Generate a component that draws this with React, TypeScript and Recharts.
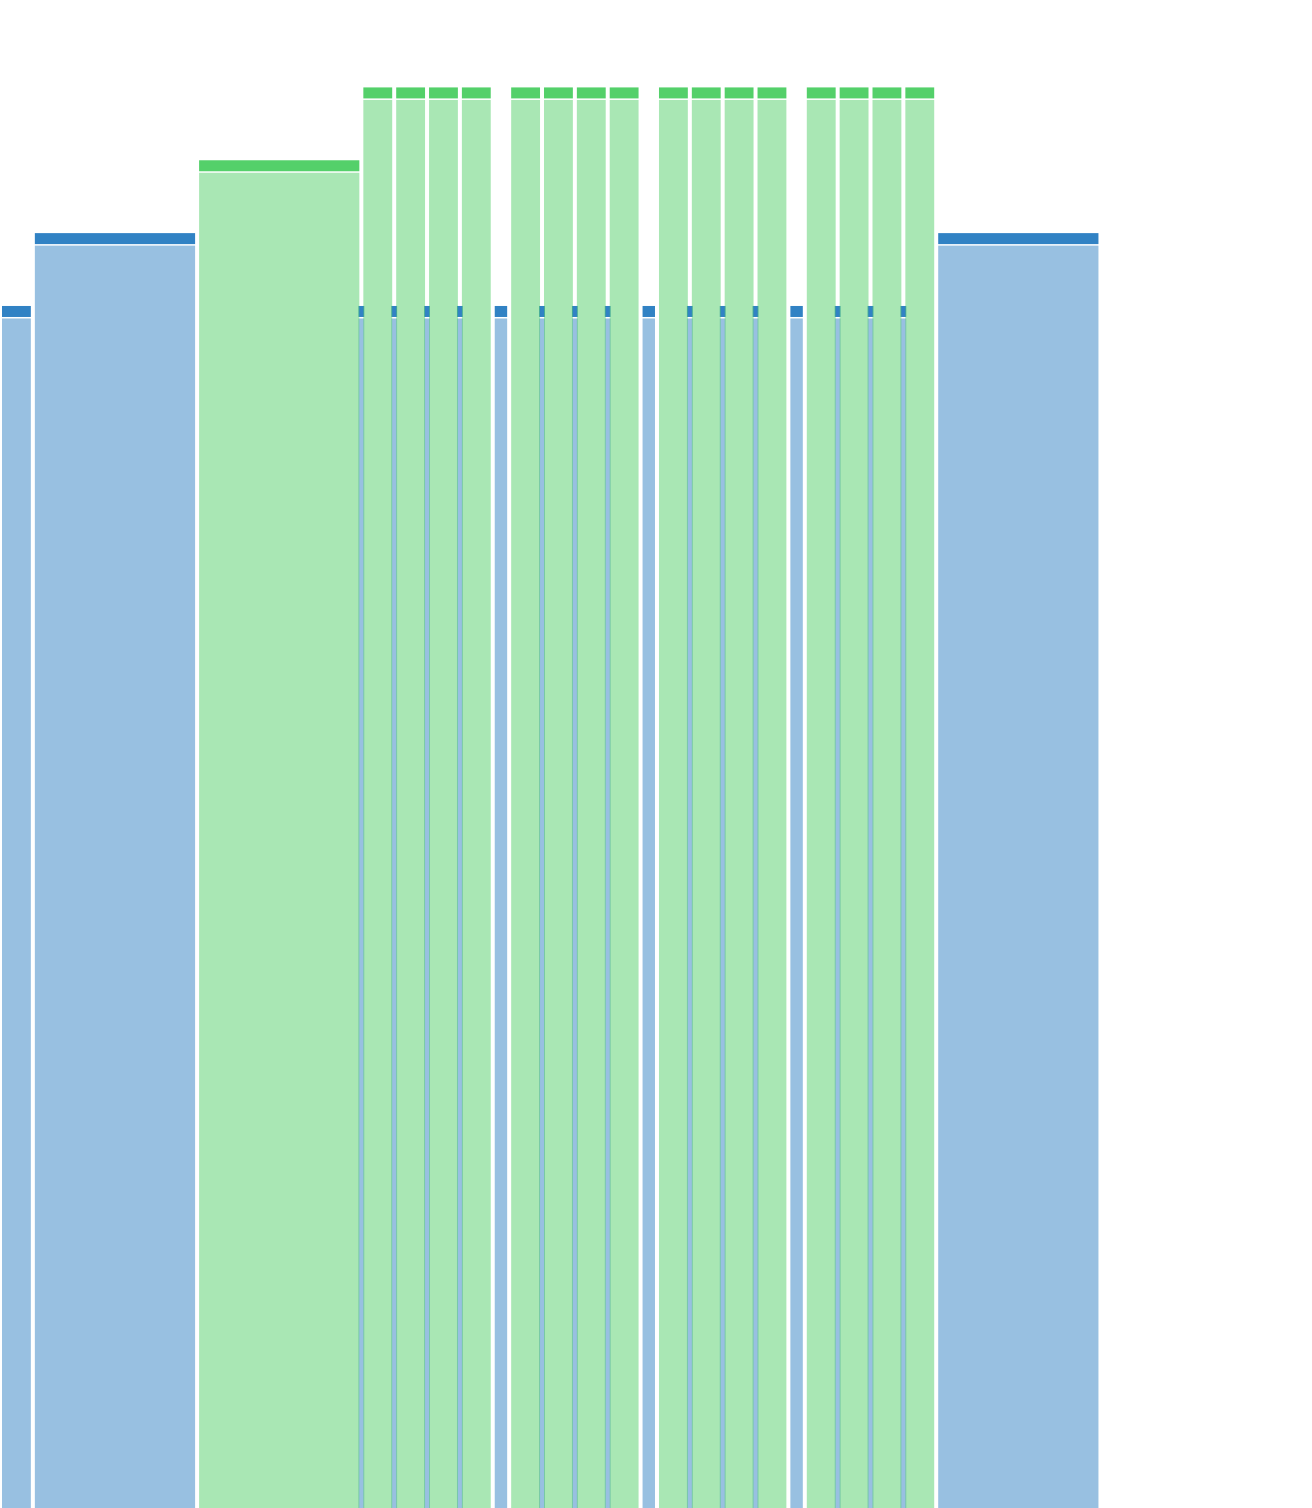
import { ComposedChart, XAxis, YAxis, ReferenceArea } from 'recharts'

// x runs in time slots, y in level units
const blueStarts = [0, 1, 15, 19.5, 24, 28.5]
const blueEnds = [1, 6, 15.5, 20, 24.5, 33.5]
const blueLevels = [16.5, 17.5, 16.5, 16.5, 16.5, 17.5]

// thin blue markers that peek out between the green bars
const blueMarkers = [11, 12, 13, 14, 16.5, 17.5, 18.5, 21, 22, 23, 25.5, 26.5, 27.5]
const blueMarkerLevel = 16.5
const blueMarkerHalf = 0.15

const greenStarts = [6, 11, 12, 13, 14, 15.5, 16.5, 17.5, 18.5, 20, 21, 22, 23, 24.5, 25.5, 26.5, 27.5]
const greenEnds = [11, 12, 13, 14, 15, 16.5, 17.5, 18.5, 19.5, 21, 22, 23, 24, 25.5, 26.5, 27.5, 28.5]
const greenLevels = [18.5, 19.5, 19.5, 19.5, 19.5, 19.5, 19.5, 19.5, 19.5, 19.5, 19.5, 19.5, 19.5, 19.5, 19.5, 19.5, 19.5]

const BLUE = '#3182c4'
const BLUE_LIGHT = '#98c0e1'
const GREEN = '#54d06a'

type Seg = { x1: number; x2: number; y: number }

const blueSegs: Seg[] = [
  ...blueStarts.map((s, i) => ({ x1: s, x2: blueEnds[i], y: blueLevels[i] })),
  ...blueMarkers.map((c) => ({ x1: c - blueMarkerHalf, x2: c + blueMarkerHalf, y: blueMarkerLevel })),
]
const greenSegs: Seg[] = greenStarts.map((s, i) => ({ x1: s, x2: greenEnds[i], y: greenLevels[i] }))

function cappedBar(cap: string, body: string, bodyOpacity: number) {
  return (props: any) => {
    const { x, y, width, height } = props
    const inset = 2
    const capH = 11
    const gap = 1.5
    const w = Math.max(width - inset * 2, 0)
    return (
      <g>
        <rect x={x + inset} y={y} width={w} height={capH} fill={cap} />
        <rect
          x={x + inset}
          y={y + capH + gap}
          width={w}
          height={Math.max(height - capH - gap, 0)}
          fill={body}
          fillOpacity={bodyOpacity}
        />
      </g>
    )
  }
}

export default function App() {
  return (
    <div style={{ position: 'absolute', left: 0, top: 0, background: '#fff' }}>
      <ComposedChart
        width={1312}
        height={1508}
        data={[{ x: 0 }]}
        margin={{ top: 0, right: 0, bottom: 0, left: 0 }}
      >
        <XAxis type="number" dataKey="x" domain={[0, 39.94]} allowDataOverflow hide />
        <YAxis type="number" domain={[0, 20.7]} allowDataOverflow hide />
        {blueSegs.map((d, i) => (
          <ReferenceArea
            key={`b${i}`}
            x1={d.x1}
            x2={d.x2}
            y1={0}
            y2={d.y}
            shape={cappedBar(BLUE, BLUE_LIGHT, 1)}
          />
        ))}
        {greenSegs.map((d, i) => (
          <ReferenceArea
            key={`g${i}`}
            x1={d.x1}
            x2={d.x2}
            y1={0}
            y2={d.y}
            shape={cappedBar(GREEN, GREEN, 0.5)}
          />
        ))}
      </ComposedChart>
    </div>
  )
}
